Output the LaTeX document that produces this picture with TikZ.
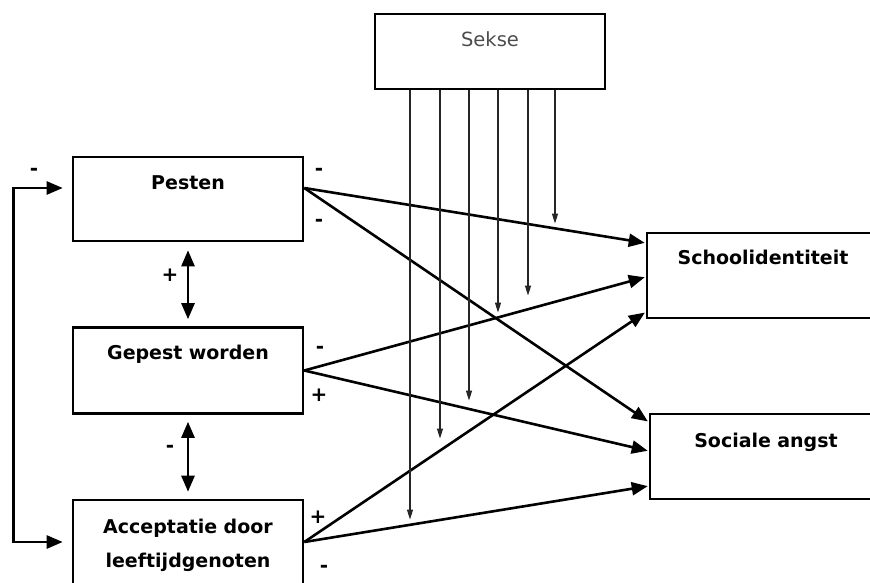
\documentclass[tikz,border=0pt]{standalone}
\usepackage{fontspec}
\setmainfont{DejaVu Sans}
\usepackage{tikz}
\usetikzlibrary{arrows.meta,positioning}

\begin{document}
\begin{tikzpicture}[x=1pt, y=-1pt, node distance=171.5pt,
		box/.style={draw, rectangle, line width=2.6pt, inner sep=0pt, text width=230pt, align=center,
			text height=32pt, text depth=52pt, font=\fontsize{19}{34}\selectfont\bfseries},
		effect/.style={->, >={Triangle[length=16pt,width=13pt]}, line width=2.6pt, shorten >=1pt},
		moderator/.style={->, >={Triangle[length=10pt,width=6pt]}, line width=1.2pt, black!85},
		sign/.style={inner sep=0pt, font=\fontsize{20}{20}\selectfont\bfseries}]
				\useasboundingbox (0,0) rectangle (870,583);

				\node[box]                                      (P) at (188,199)   {Pesten};
				\node[box, text depth=54pt]                     (G) [below of=P]   {Gepest worden};
				\node[box, text height=33pt, text depth=51pt]   (A) [below of=G]   {Acceptatie door\\leeftijdgenoten};
				\node[box, text width=232pt, text height=31pt, text depth=54pt] (S) at (763,275.5) {Schoolidentiteit};
				\node[box, text width=232pt, text height=33pt, text depth=52pt] (L) at (766,456.5) {Sociale angst};
				\node[draw, line width=1.2pt, inner sep=0pt, minimum width=230pt, text height=33pt, text depth=42pt,
					text=black!70, font=\fontsize{19.5}{20}\selectfont] (Sk) at (490,51.5) {Sekse};

				\path[effect]	([yshift=11pt]P.east) edge ([yshift=32.5pt]S.west)
								([yshift=11pt]P.east) edge ([yshift=34.5pt]L.west)
								(G.east) edge ([yshift=-1.5pt]S.west)
								(G.east) edge ([yshift=5.5pt]L.west)
								(A.east) edge ([yshift=-36.5pt]S.west)
								(A.east) edge ([yshift=-29.5pt]L.west);

				\draw[effect, <->, shorten <=9pt, shorten >=9pt] ([yshift=11pt]P.west) -| ([xshift=-58pt]A.west) -- (A.west);
				\draw[effect, <->, shorten <=8pt, shorten >=7pt] (P.south) -- (G.north);
				\draw[effect, <->, shorten <=7pt, shorten >=7pt] (G.south) -- (A.north);

				\foreach \dx/\len [count=\i] in {-80/430, -50/349, -21/311, 8/223, 38/206, 65/134} {
					\coordinate (m\i) at ([xshift=\dx pt, yshift=-\len pt]Sk.south);
					\draw[moderator] ([xshift=\dx pt]Sk.south) -- (m\i);
				}

				\node[sign] (s1) at (34,172)  {-};
				\node[sign] (s2) at (319,172) {-};
				\node[sign] (s3) at (319,223) {-};
				\node[sign] (s4) at (170,275) {+};
				\node[sign] (s5) at (320,350) {-};
				\node[sign] (s6) at (319,395) {+};
				\node[sign] (s7) at (170,449) {-};
				\node[sign] (s8) at (318,517) {+};
				\node[sign] (s9) at (324,569) {-};
\end{tikzpicture}
\end{document}
